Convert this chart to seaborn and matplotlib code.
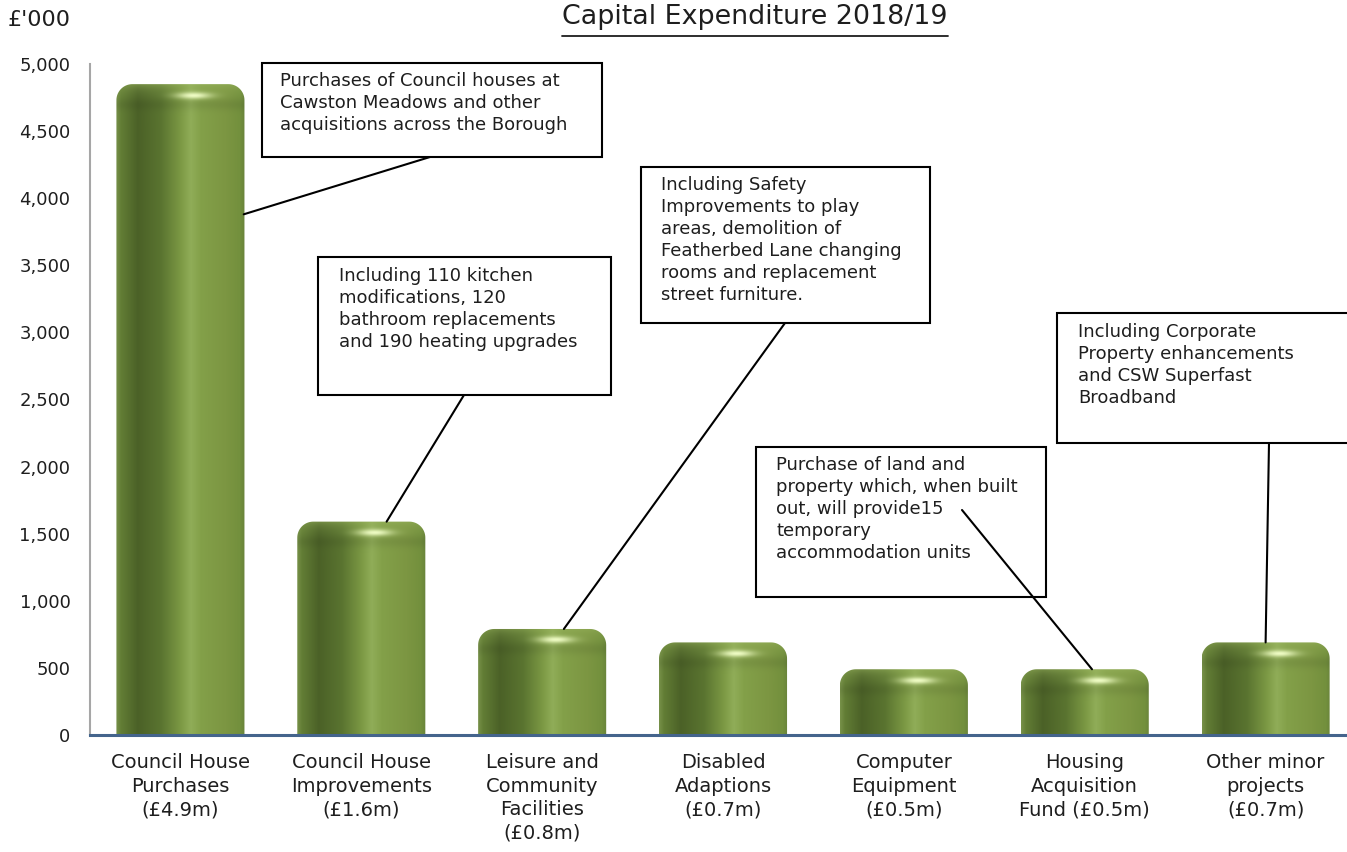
import numpy as np
import pandas as pd
import matplotlib
matplotlib.use("Agg")
import matplotlib.pyplot as plt
import seaborn as sns
from matplotlib.path import Path
from matplotlib.patches import PathPatch, Rectangle
from matplotlib.lines import Line2D
from matplotlib.colors import to_rgb

# ---------------- data ----------------
categories = [
    "Council House\nPurchases\n(£4.9m)",
    "Council House\nImprovements\n(£1.6m)",
    "Leisure and\nCommunity\nFacilities\n(£0.8m)",
    "Disabled\nAdaptions\n(£0.7m)",
    "Computer\nEquipment\n(£0.5m)",
    "Housing\nAcquisition\nFund (£0.5m)",
    "Other minor\nprojects\n(£0.7m)",
]
values = [4850, 1590, 790, 690, 490, 490, 690]
yticks = [0, 500, 1000, 1500, 2000, 2500, 3000, 3500, 4000, 4500, 5000]
title = "Capital Expenditure 2018/19"
unit_label = "£'000"

notes = [
    "Purchases of Council houses at\nCawston Meadows and other\nacquisitions across the Borough",
    "Including 110 kitchen\nmodifications, 120\nbathroom replacements\nand 190 heating upgrades",
    "Including Safety\nImprovements to play\nareas, demolition of\nFeatherbed Lane changing\nrooms and replacement\nstreet furniture.",
    "Purchase of land and\nproperty which, when built\nout, will provide15\ntemporary\naccommodation units",
    "Including Corporate\nProperty enhancements\nand CSW Superfast\nBroadband",
]
note_bar = [0, 1, 2, 5, 6]

# ---------------- layout (pixels, from top-left) ----------------
W, H = 1347, 852
box_rects = [(262, 63, 602, 157), (318, 257, 611, 395), (641, 167, 930, 323),
             (756, 447, 1046, 597), (1057, 313, 1360, 443)]
text_pos = [(280, 72), (339, 267), (661, 176), (776, 456), (1078, 323)]
line_start = [(430, 157), (464, 395), (785, 323), (962, 510), (1269, 443)]
# where the connector touches the bar: (x offset from bar centre, fraction of bar height)
line_end = [(0.35, 0.80), (0.14, 1.0), (0.12, 1.0), (0.04, 1.0), (0.0, 1.0)]

sns.set_theme(style="white")
plt.rcParams["font.family"] = ["DejaVu Sans"]
txt_color = "#1e1e1e"

fig = plt.figure(figsize=(W / 100, H / 100), dpi=100)
ax = fig.add_axes([90 / W, 1 - 735 / H, 1 - 90 / W, (735 - 64) / H])

df = pd.DataFrame({"cat": categories, "val": values})
sns.barplot(data=df, x="cat", y="val", ax=ax, width=0.708, color="#6e8a3a")
ax.set_xlim(-0.5, 6.45)
ax.set_ylim(0, 5000)
ax.set_xlabel("")
ax.set_ylabel("")
ax.set_yticks(yticks)
ax.set_yticklabels([f"{v:,}" for v in yticks], fontsize=13, color=txt_color)
ax.tick_params(axis="y", length=0, pad=14)
ax.tick_params(axis="x", length=0, pad=13, labelsize=14, colors=txt_color)
for lab in ax.get_xticklabels():
    lab.set_linespacing(1.3)
for s in ["top", "right"]:
    ax.spines[s].set_visible(False)
ax.spines["left"].set_color("#a6a6a6")
ax.spines["left"].set_linewidth(1.5)
ax.spines["bottom"].set_color("#44648c")
ax.spines["bottom"].set_linewidth(2.2)
ax.spines["bottom"].set_zorder(5)

# ---------------- cylinder shading ----------------
stops = [(0.00, "#78924a"), (0.04, "#627d35"), (0.17, "#4b6127"), (0.35, "#5a7430"),
         (0.50, "#7b9844"), (0.58, "#90ad58"), (0.66, "#83a049"), (0.85, "#7c9642"),
         (0.96, "#73903d"), (1.00, "#68833b")]
sp = np.array([s[0] for s in stops])
sc = np.array([to_rgb(s[1]) for s in stops])

px_per_x = ax.transData.transform((1, 0))[0] - ax.transData.transform((0, 0))[0]
px_per_y = (ax.transData.transform((0, 1000))[1] - ax.transData.transform((0, 0))[1]) / 1000.0

for p in ax.patches:
    x0, w, h = p.get_x(), p.get_width(), p.get_height()
    p.set_visible(False)
    wp = max(int(round(w * px_per_x)), 2)
    hp = max(int(round(h * px_per_y)), 2)
    u = (np.arange(wp) + 0.5) / wp
    prof = np.stack([np.interp(u, sp, sc[:, k]) for k in range(3)], axis=-1)
    img = np.repeat(prof[None, :, :], hp, axis=0)
    d = np.arange(hp)[:, None, None]  # distance from top in px
    light = np.array(to_rgb("#9db862"))
    blend = 0.5 * np.exp(-d / 7.0)
    img = img * (1 - blend) + light * blend
    dark = 0.07 * np.exp(-((d - 20) / 6.0) ** 2)
    img = img * (1 - dark)
    # specular highlight
    xx = (np.arange(wp) - 0.6 * wp)[None, :]
    yy = (np.arange(hp) - 11)[:, None]
    hl = (0.95 * np.exp(-(xx / 17.0) ** 2 - (yy / 3.4) ** 2))[:, :, None]
    img = img * (1 - hl) + np.array(to_rgb("#f2ffc8")) * hl
    img = np.clip(img, 0, 1)

    x1 = x0 + w
    rx = 16 / px_per_x
    ry = 16 / px_per_y
    t = np.linspace(0, np.pi / 2, 20)
    verts = [(x0, 0), (x1, 0), (x1, h - ry)]
    verts += [(x1 - rx + rx * np.cos(a), h - ry + ry * np.sin(a)) for a in t]
    verts += [(x0 + rx - rx * np.cos(a), h - ry + ry * np.sin(a)) for a in t[::-1]]
    verts += [(x0, 0)]
    codes = [Path.MOVETO] + [Path.LINETO] * (len(verts) - 2) + [Path.CLOSEPOLY]
    clip = PathPatch(Path(verts, codes), transform=ax.transData, facecolor="none", edgecolor="none")
    ax.add_patch(clip)
    im = ax.imshow(img, extent=(x0, x1, 0, h), aspect="auto", interpolation="bilinear",
                   origin="upper", zorder=2)
    im.set_clip_path(clip)

ax.set_xlim(-0.5, 6.45)
ax.set_ylim(0, 5000)

# ---------------- titles ----------------
fig.text(8 / W, 1 - 20 / H, unit_label, ha="left", va="center", fontsize=16, color=txt_color)
tt = fig.text(755 / W, 1 - 17 / H, title, ha="center", va="center", fontsize=19.4, color=txt_color)
fig.canvas.draw()
bb = tt.get_window_extent(fig.canvas.get_renderer())
fig.add_artist(Line2D([bb.x0 / W, bb.x1 / W], [1 - 36 / H, 1 - 36 / H], color=txt_color,
                      lw=1.3, transform=fig.transFigure))

# ---------------- annotation boxes ----------------
for i, note in enumerate(notes):
    l, tp, r, bt = box_rects[i]
    fig.add_artist(Rectangle((l / W, 1 - bt / H), (r - l) / W, (bt - tp) / H,
                             transform=fig.transFigure, facecolor="white",
                             edgecolor="black", lw=1.5, zorder=10))
    tx, ty = text_pos[i]
    fig.text(tx / W, 1 - ty / H, note, ha="left", va="top", fontsize=13,
             linespacing=1.28, color=txt_color, zorder=11)
    bi = note_bar[i]
    dx, frac = line_end[i]
    ex, ey = ax.transData.transform((bi + dx, values[bi] * frac))
    sx, sy = line_start[i]
    fig.add_artist(Line2D([sx / W, ex / W], [1 - sy / H, ey / H], color="black", lw=1.5,
                          transform=fig.transFigure, zorder=12))

fig.savefig("out.png", dpi=100)
